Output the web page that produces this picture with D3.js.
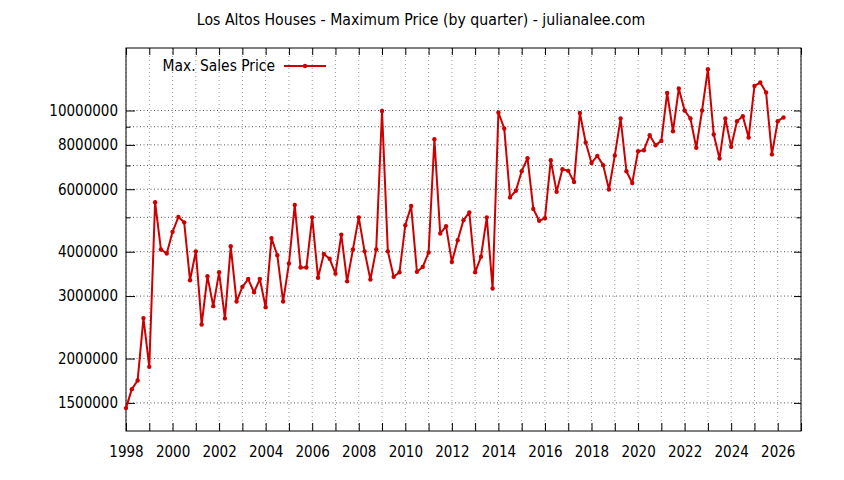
<!DOCTYPE html>
<html>
<head>
<meta charset="utf-8">
<script src="https://cdn.jsdelivr.net/npm/d3@7"></script>
<style>
  body { margin: 0; background: #fff; }
  svg text { font-family: "DejaVu Sans Condensed", "DejaVu Sans", sans-serif; font-stretch: condensed; fill: #000; }
</style>
</head>
<body>
<div id="chart"></div>
<script>
// quarterly max price, starting 1998 Q1
const startYear = 1998
const maxPrice = [
  1450000, 1640000, 1735000, 2600000, 1895000, 5515000, 4060000, 3955000,
  4550000, 5010000, 4840000, 3325000, 4010000, 2495000, 3410000, 2810000,
  3500000, 2595000, 4145000, 2895000, 3185000, 3350000, 3075000, 3350000,
  2790000, 4370000, 3910000, 2895000, 3705000, 5420000, 3610000, 3610000,
  5000000, 3380000, 3940000, 3820000, 3470000, 4470000, 3300000, 4060000,
  5000000, 4010000, 3340000, 4060000, 9970000, 4010000, 3400000, 3500000,
  4750000, 5380000, 3510000, 3625000, 3980000, 8300000, 4500000, 4720000,
  3745000, 4310000, 4910000, 5160000, 3500000, 3870000, 5000000, 3150000,
  9870000, 8900000, 5690000, 5940000, 6745000, 7340000, 5280000, 4890000,
  4970000, 7245000, 5900000, 6830000, 6760000, 6290000, 9840000, 8125000,
  7115000, 7450000, 7015000, 5990000, 7465000, 9490000, 6745000, 6250000,
  7680000, 7730000, 8520000, 7985000, 8210000, 11210000, 8740000, 11530000,
  10000000, 9490000, 7850000, 10000000, 13070000, 8560000, 7320000, 9490000,
  7900000, 9330000, 9630000, 8390000, 11730000, 11990000, 11240000, 7520000,
  9330000, 9560000
]
const yMajorTicks = [1500000, 2000000, 3000000, 4000000, 6000000, 8000000, 10000000]
const yMinorTicks = [5000000, 7000000, 9000000]
const xTicks = d3.range(1998, 2028)
const xLabelYears = d3.range(1998, 2027, 2)

const title = "Los Altos Houses - Maximum Price (by quarter) - julianalee.com"
const seriesName = "Max. Sales Price"

const margin = {top: 48, right: 43, bottom: 49, left: 126}
const WIDTH = 844 - margin.left - margin.right
const HEIGHT = 480 - margin.top - margin.bottom
const red = "#cc0000"

const data = maxPrice.map((v, i) => ({t: startYear + i / 4, v: v}))

const svg = d3.select("#chart")
  .append("svg")
  .attr("width", 844)
  .attr("height", 480)

svg.append("text")
  .attr("x", 421)
  .attr("y", 25)
  .attr("text-anchor", "middle")
  .attr("font-size", "15.7px")
  .text(title)

const g = svg.append("g")
  .attr("transform", "translate(" + margin.left + "," + margin.top + ")")

const x = d3.scaleLinear()
  .domain([1998, 2027])
  .range([0, WIDTH])

const y = d3.scaleLog()
  .domain([1250000, 15000000])
  .range([HEIGHT, 0])

// grid
g.append("g")
  .selectAll("line")
  .data(xTicks)
  .enter()
  .append("line")
  .attr("x1", d => x(d)).attr("x2", d => x(d))
  .attr("y1", 0).attr("y2", HEIGHT)
  .attr("stroke", "#999")
  .attr("stroke-dasharray", "1,3")

g.append("g")
  .selectAll("line")
  .data(yMajorTicks.concat(yMinorTicks))
  .enter()
  .append("line")
  .attr("x1", 0).attr("x2", WIDTH)
  .attr("y1", d => y(d)).attr("y2", d => y(d))
  .attr("stroke", "#555")
  .attr("stroke-dasharray", "1,2.5")

// axes, ticks pointing inward
const xAxis = d3.axisBottom(x)
  .tickValues(xTicks)
  .tickSize(-8)
  .tickFormat(d => xLabelYears.includes(d) ? d : "")
g.append("g")
  .attr("class", "x axis")
  .attr("transform", "translate(0," + HEIGHT + ")")
  .call(xAxis)
  .call(s => s.selectAll("text").attr("y", 26).attr("dy", 0).attr("font-size", "15px"))

g.append("g")
  .attr("class", "x axis top")
  .call(d3.axisTop(x).tickValues(xTicks).tickSize(-7).tickFormat(""))

const yAxis = d3.axisLeft(y)
  .tickValues(yMajorTicks)
  .tickSize(-9)
  .tickPadding(8)
  .tickFormat(d => d)
g.append("g")
  .attr("class", "y axis")
  .call(yAxis)
  .call(s => s.selectAll("text").attr("font-size", "15px"))

g.append("g")
  .call(d3.axisLeft(y).tickValues(yMinorTicks).tickSize(-4.5).tickFormat(""))

g.append("g")
  .attr("transform", "translate(" + WIDTH + ",0)")
  .call(d3.axisRight(y).tickValues(yMajorTicks).tickSize(-7).tickFormat(""))

g.append("g")
  .attr("transform", "translate(" + WIDTH + ",0)")
  .call(d3.axisRight(y).tickValues(yMinorTicks).tickSize(-4.5).tickFormat(""))

g.selectAll(".domain").remove()
g.selectAll(".tick line").attr("stroke", "#000")

g.append("rect")
  .attr("width", WIDTH)
  .attr("height", HEIGHT)
  .attr("fill", "none")
  .attr("stroke", "#000")

// series
const line = d3.line()
  .x(d => x(d.t))
  .y(d => y(d.v))

g.append("path")
  .datum(data)
  .attr("fill", "none")
  .attr("stroke", red)
  .attr("stroke-width", 2)
  .attr("stroke-linejoin", "round")
  .attr("d", line)

g.selectAll("circle.pt")
  .data(data)
  .enter()
  .append("circle")
  .attr("class", "pt")
  .attr("cx", d => x(d.t))
  .attr("cy", d => y(d.v))
  .attr("r", 2.2)
  .attr("fill", red)

// legend
svg.append("text")
  .attr("x", 275)
  .attr("y", 71)
  .attr("text-anchor", "end")
  .attr("font-size", "15.4px")
  .text(seriesName)

svg.append("line")
  .attr("x1", 284).attr("x2", 326)
  .attr("y1", 66).attr("y2", 66)
  .attr("stroke", red)
  .attr("stroke-width", 2)

svg.append("circle")
  .attr("cx", 305).attr("cy", 66)
  .attr("r", 2.2)
  .attr("fill", red)
</script>
</body>
</html>
